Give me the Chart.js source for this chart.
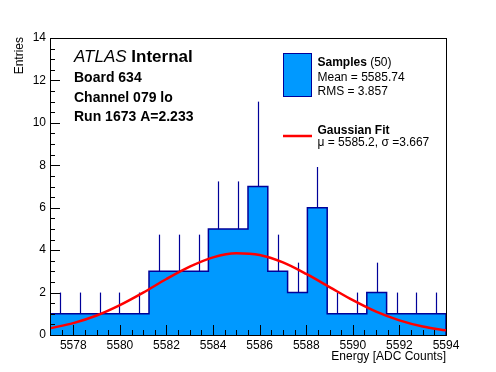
<!DOCTYPE html>
<html><head><meta charset="utf-8">
<script src="https://cdn.jsdelivr.net/npm/chart.js@4"></script>
<style>html,body{margin:0;padding:0;background:#fff}#wrap{width:496px;height:372px}</style>
</head><body><div id="wrap"><canvas id="c" width="496" height="372"></canvas></div>
<script>
// ---- data ----
const binEdges = [5577.00, 5577.85, 5578.70, 5579.55, 5580.40, 5581.25, 5582.10, 5582.95, 5583.80, 5584.65,
                  5585.50, 5586.35, 5587.20, 5588.05, 5588.90, 5589.75, 5590.60, 5591.45, 5592.30, 5593.15, 5594.00];
const binCounts = [1, 1, 1, 1, 1, 3, 3, 3, 5, 5, 7, 3, 2, 6, 1, 1, 2, 1, 1, 1];
const binErrTop = [2, 2, 2, 2, 2, 4.73, 4.73, 4.73, 7.24, 7.24, 11.0, 4.73, 3.41, 7.92, 2, 2, 3.41, 2, 2, 2];
const fitX = [5577, 5578, 5579, 5580, 5581, 5582, 5583, 5584, 5585, 5586, 5587, 5588, 5589, 5590, 5591, 5592, 5593, 5594];
const fitY = [0.32, 0.56, 0.92, 1.41, 2.00, 2.64, 3.22, 3.66, 3.85, 3.77, 3.42, 2.88, 2.26, 1.64, 1.10, 0.69, 0.40, 0.22];
const xTickLabels = [5578, 5580, 5582, 5584, 5586, 5588, 5590, 5592, 5594];
const yTickLabels = [0, 2, 4, 6, 8, 10, 12, 14];

const FONT = '"Liberation Sans", Arial, Helvetica, sans-serif';
const FILL = '#0099ff', NAVY = '#000099', RED = '#ff0000';

// histogram outline points (stepped)
const histPts = [{x: binEdges[0], y: 0}];
binCounts.forEach((c, i) => histPts.push({x: binEdges[i], y: c}));
histPts.push({x: binEdges[binEdges.length - 1], y: binCounts[binCounts.length - 1]});
histPts.push({x: binEdges[binEdges.length - 1], y: 0});

const fitPts = fitX.map((x, i) => ({x, y: fitY[i]}));

const deco = {
  id: 'deco',
  afterDatasetDraw(chart, args) {
    if (args.index !== 1) return;
    const ctx = chart.ctx, xs = chart.scales.x, ys = chart.scales.y;
    ctx.save();
    ctx.strokeStyle = NAVY; ctx.lineWidth = 1.2;
    binCounts.forEach((c, i) => {
      const xc = xs.getPixelForValue((binEdges[i] + binEdges[i + 1]) / 2);
      const px = Math.round(xc) + 0.5;
      ctx.beginPath();
      ctx.moveTo(px, ys.getPixelForValue(c));
      ctx.lineTo(px, ys.getPixelForValue(binErrTop[i]));
      ctx.stroke();
    });
    ctx.restore();
  },
  afterDraw(chart) {
    const ctx = chart.ctx, xs = chart.scales.x, ys = chart.scales.y, a = chart.chartArea;
    ctx.save();
    // frame
    ctx.strokeStyle = '#000'; ctx.lineWidth = 1;
    ctx.strokeRect(Math.round(a.left) + 0.5, Math.round(a.top) + 0.5, Math.round(a.right - a.left), Math.round(a.bottom - a.top));
    // y ticks
    ctx.beginPath();
    for (let v = 0; v <= 14.001; v += 0.5) {
      const py = Math.round(ys.getPixelForValue(v)) + 0.5;
      const len = (Math.abs(v % 2) < 1e-6) ? 10 : 5;
      ctx.moveTo(a.left, py); ctx.lineTo(a.left + len, py);
    }
    // x ticks
    for (let v = 5577; v <= 5594.001; v += 0.5) {
      const px = Math.round(xs.getPixelForValue(v)) + 0.5;
      const len = (Math.abs(v % 2) < 1e-6) ? 10 : 5;
      ctx.moveTo(px, a.bottom); ctx.lineTo(px, a.bottom - len);
    }
    ctx.stroke();

    ctx.fillStyle = '#000';
    // axis titles
    ctx.font = '12px ' + FONT;
    ctx.textAlign = 'right'; ctx.textBaseline = 'alphabetic';
    ctx.fillText('Energy [ADC Counts]', a.right, 360);
    ctx.save();
    ctx.translate(23, a.top - 1);
    ctx.rotate(-Math.PI / 2);
    ctx.textAlign = 'right';
    ctx.fillText('Entries', 0, 0);
    ctx.restore();

    // ATLAS label
    ctx.textAlign = 'left';
    ctx.font = 'italic 17px ' + FONT;
    ctx.fillText('ATLAS', 74, 61.5);
    const w = ctx.measureText('ATLAS ').width;
    ctx.font = 'bold 17px ' + FONT;
    ctx.fillText('Internal', 74 + w, 61.5);
    ctx.font = 'bold 14px ' + FONT;
    ctx.fillText('Board 634', 74, 81.5);
    ctx.fillText('Channel 079 lo', 74, 101.5);
    ctx.fillText('Run 1673 A=2.233', 74, 120.5);

    // legend
    ctx.fillStyle = FILL; ctx.fillRect(283.5, 53.5, 28, 43);
    ctx.strokeStyle = NAVY; ctx.lineWidth = 1; ctx.strokeRect(283.5, 53.5, 28, 43);
    ctx.fillStyle = '#000';
    ctx.font = 'bold 12px ' + FONT;
    ctx.fillText('Samples', 317.5, 66);
    const ws = ctx.measureText('Samples').width;
    ctx.font = '12px ' + FONT;
    ctx.fillText(' (50)', 317.5 + ws, 66);
    ctx.fillText('Mean = 5585.74', 317.5, 81);
    ctx.fillText('RMS = 3.857', 317.5, 94.5);
    ctx.strokeStyle = RED; ctx.lineWidth = 2.5;
    ctx.beginPath(); ctx.moveTo(283, 136); ctx.lineTo(312, 136); ctx.stroke();
    ctx.font = 'bold 12px ' + FONT;
    ctx.fillText('Gaussian Fit', 317.5, 134);
    ctx.font = '12px ' + FONT;
    ctx.fillText('\u03bc = 5585.2, \u03c3 =3.667', 317.5, 145.5);
    ctx.restore();
  }
};

new Chart(document.getElementById('c'), {
  type: 'line',
  data: {
    datasets: [
      { label: 'Gaussian Fit', data: fitPts, borderColor: RED, borderWidth: 2.5, pointRadius: 0,
        fill: false, cubicInterpolationMode: 'monotone' },
      { label: 'Samples', data: histPts, borderColor: NAVY, backgroundColor: FILL, borderWidth: 1.5,
        pointRadius: 0, stepped: 'before', fill: 'origin' }
    ]
  },
  options: {
    responsive: false, animation: false, devicePixelRatio: 1,
    layout: { padding: { top: 38, right: 50, left: 0, bottom: 0 } },
    plugins: { legend: { display: false }, tooltip: { enabled: false } },
    scales: {
      x: {
        type: 'linear', min: 5577, max: 5594,
        afterBuildTicks: s => { s.ticks = xTickLabels.map(v => ({value: v})); },
        afterFit: s => { s.height = 37; },
        grid: { display: false, drawTicks: false }, border: { display: false },
        ticks: { color: '#000', font: { family: FONT, size: 12 }, padding: 3, maxRotation: 0, autoSkip: false,
                 callback: v => String(v) }
      },
      y: {
        min: 0, max: 14,
        afterBuildTicks: s => { s.ticks = yTickLabels.map(v => ({value: v})); },
        afterFit: s => { s.width = 50; },
        grid: { display: false, drawTicks: false }, border: { display: false },
        ticks: { color: '#000', font: { family: FONT, size: 12 }, padding: 4, autoSkip: false,
                 callback: v => String(v) }
      }
    }
  },
  plugins: [deco]
});
</script></body></html>
